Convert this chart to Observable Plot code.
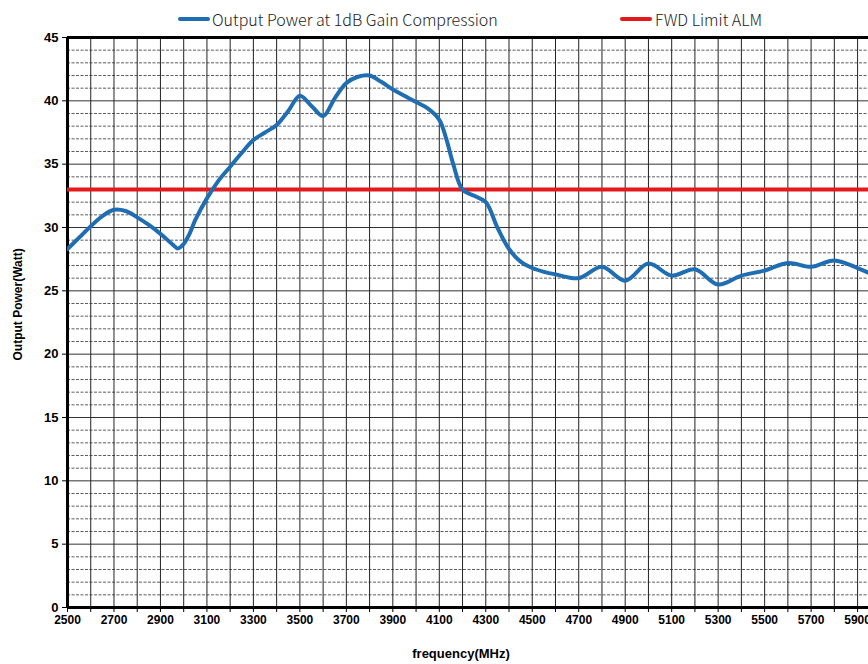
<!DOCTYPE html>
<html><head><meta charset="utf-8">
<script src="https://cdn.jsdelivr.net/npm/d3@7"></script>
<script src="https://cdn.jsdelivr.net/npm/@observablehq/plot@0.6"></script>
<style>
body{margin:0;background:#fff;font-family:"Liberation Sans",Arial,sans-serif;}
#legend{position:relative;height:30px;width:868px;font-family:"Noto Sans CJK JP","Noto Sans",sans-serif;font-size:16px;font-weight:300;color:#222;}
.sw{position:absolute;top:17px;width:32px;height:4px;border-radius:2px;}
.lt{position:absolute;top:8px;line-height:22px;white-space:nowrap;}
</style></head>
<body>
<div id="legend"></div>
<div id="chart"></div>
<script>
const freq = [2500,2550,2600,2650,2700,2750,2800,2850,2900,2950,2975,3000,3025,3050,3100,3150,3200,3250,3300,3350,3400,3450,3500,3550,3600,3650,3700,3750,3800,3850,3900,3950,4000,4050,4100,4130,4160,4200,4250,4300,4350,4400,4450,4500,4550,4600,4700,4800,4900,5000,5100,5200,5300,5400,5500,5600,5700,5800,5900,5950];
const power = [28.3,29.2,30.1,30.9,31.4,31.3,30.8,30.2,29.5,28.7,28.35,28.7,29.5,30.6,32.3,33.7,34.8,35.9,36.9,37.5,38.1,39.2,40.4,39.6,38.8,40.2,41.4,41.9,42.0,41.5,40.9,40.4,39.9,39.4,38.5,37.0,35.0,33.0,32.5,32.0,30.0,28.3,27.3,26.8,26.5,26.3,26.0,26.9,25.8,27.15,26.2,26.7,25.5,26.2,26.6,27.2,26.9,27.4,26.8,26.4];
const limitALM = [33];
const seriesNames = ["Output Power at 1dB Gain Compression","FWD Limit ALM"];
const seriesColors = ["#1f6db3","#e3191c"];
const xLabels = [2500,2700,2900,3100,3300,3500,3700,3900,4100,4300,4500,4700,4900,5100,5300,5500,5700,5900];
const yLabels = [0,5,10,15,20,25,30,35,40,45];
const xTitle = "frequency(MHz)";
const yTitle = "Output Power(Watt)";

const data = freq.map((f,i)=>({f, p: power[i]}));

// legend
const leg = document.getElementById("legend");
const legPos = [[178,212],[620,655]];
seriesNames.forEach((n,i)=>{
  const s=document.createElement("div");s.className="sw";s.style.left=legPos[i][0]+"px";s.style.background=seriesColors[i];leg.appendChild(s);
  const t=document.createElement("div");t.className="lt";t.style.left=legPos[i][1]+"px";t.textContent=n;leg.appendChild(t);
});

const xGrid = d3.range(2600, 5947, 100);
const xTicks = d3.range(2500, 5947, 100);
const yMinor = d3.range(1, 45, 1).filter(v => v % 5 !== 0);
const yMajor = d3.range(5, 45, 5);

const plot = Plot.plot({
  width: 868, height: 634,
  marginLeft: 67, marginRight: 0, marginTop: 7, marginBottom: 57,
  x: {domain: [2500, 5947]},
  y: {domain: [0, 45]},
  style: {fontFamily: "'Liberation Sans', Arial, sans-serif", background: "#fff"},
  marks: [
    Plot.ruleY(yMinor, {stroke: "#333", strokeWidth: 0.8, strokeDasharray: "3,1.5"}),
    Plot.ruleY(yMajor, {stroke: "#333", strokeWidth: 1}),
    Plot.ruleX(xGrid, {stroke: "#222", strokeWidth: 1}),
    Plot.ruleY([0], {stroke: "#000", strokeWidth: 3}),
    Plot.ruleY([45], {stroke: "#000", strokeWidth: 3}),
    Plot.ruleX([2500], {stroke: "#000", strokeWidth: 3}),
    Plot.ruleY(limitALM, {stroke: seriesColors[1], strokeWidth: 4}),
    Plot.line(data, {x: "f", y: "p", curve: "catmull-rom", stroke: seriesColors[0], strokeWidth: 4, clip: true}),
    Plot.axisX({ticks: xTicks, tickSize: 5, tickPadding: 3, label: null,
      tickFormat: d => xLabels.includes(d) ? String(d) : "",
      fontSize: 12, fontWeight: "bold", fill: "#000"}),
    Plot.axisY({ticks: yLabels, tickSize: 5, tickPadding: 4, label: null,
      fontSize: 13, fontWeight: "bold", fill: "#000"}),
    Plot.text([yTitle], {frameAnchor: "left", dx: -49, dy: 38, rotate: -90, fontSize: 12, fontWeight: "bold", fill: "#000"}),
    Plot.text([xTitle], {frameAnchor: "bottom", dx: -7, dy: 50, fontSize: 13, fontWeight: "bold", fill: "#000"})
  ]
});
document.getElementById("chart").appendChild(plot);
</script>
</body></html>
